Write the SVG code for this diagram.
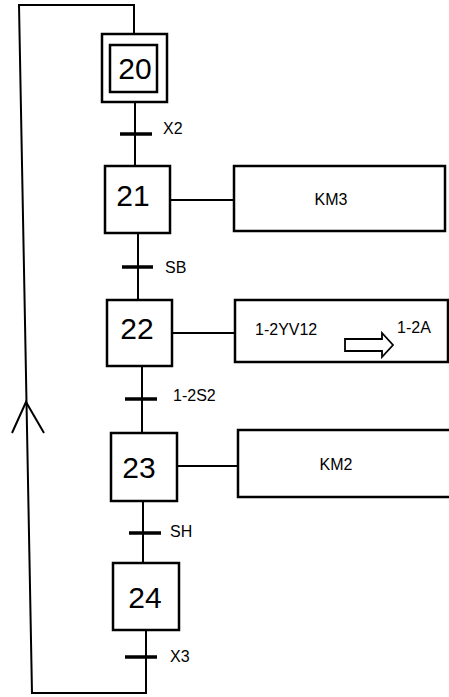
<svg xmlns="http://www.w3.org/2000/svg" width="449" height="697" viewBox="0 0 449 697">
<style>
.box{fill:none;stroke:#000;stroke-width:2.5}
.ln{fill:none;stroke:#000;stroke-width:2}
.bar{stroke:#000;stroke-width:3.5}
.num{font-family:"Liberation Sans",Arial,sans-serif;font-size:30px;text-anchor:middle;fill:#000}
.lbl{font-family:"Liberation Sans",Arial,sans-serif;font-size:16px;fill:#000}
.act{font-family:"Liberation Sans",Arial,sans-serif;font-size:16px;fill:#000}
</style>
<rect width="449" height="697" fill="#fff"/>
<g id="connectors">
<polyline class="ln" points="134,34 134,5 19,5 32,693 146,693 146,630"/>
<polyline class="ln" points="12,433 26,402 44,433"/>
<line class="ln" x1="135" y1="102" x2="135" y2="166"/>
<line class="bar" x1="120" y1="134" x2="152" y2="134"/>
<text class="lbl" x="163" y="134">X2</text>
<line class="ln" x1="138" y1="233" x2="138" y2="300"/>
<line class="bar" x1="122" y1="267" x2="153" y2="267"/>
<text class="lbl" x="165" y="273">SB</text>
<line class="ln" x1="142" y1="366" x2="142" y2="433"/>
<line class="bar" x1="125" y1="399" x2="157" y2="399"/>
<text class="lbl" x="173" y="401">1-2S2</text>
<line class="ln" x1="143" y1="501" x2="143" y2="563"/>
<line class="bar" x1="129" y1="533" x2="161" y2="533"/>
<text class="lbl" x="170" y="537">SH</text>
<line class="bar" x1="125" y1="657" x2="157" y2="657"/>
<text class="lbl" x="170" y="662">X3</text>
<line class="ln" x1="170" y1="200" x2="234" y2="200"/>
<line class="ln" x1="172" y1="333" x2="235" y2="333"/>
<line class="ln" x1="177" y1="466" x2="238" y2="466"/>
</g>
<g id="step20">
<rect class="box" x="102" y="34" width="65" height="68"/>
<rect class="box" x="110" y="45" width="47" height="47"/>
<text class="num" x="135" y="79">20</text>
</g>
<g id="step21">
<rect class="box" x="105" y="166" width="65" height="67"/>
<text class="num" x="133" y="206">21</text>
</g>
<g id="step22">
<rect class="box" x="107" y="300" width="65" height="66"/>
<text class="num" x="137" y="339">22</text>
</g>
<g id="step23">
<rect class="box" x="111" y="433" width="66" height="68"/>
<text class="num" x="139" y="478">23</text>
</g>
<g id="step24">
<rect class="box" x="113" y="563" width="66" height="67"/>
<text class="num" x="145" y="608">24</text>
</g>
<g id="action21">
<rect class="box" x="234" y="166" width="211" height="65"/>
<text class="act" x="331" y="205" text-anchor="middle">KM3</text>
</g>
<g id="action22">
<rect class="box" x="235" y="300" width="213" height="62"/>
<text class="act" x="255" y="335">1-2YV12</text>
<polygon points="345,339 382,339 382,333 393,345 382,357 382,351 345,351" fill="#fff" stroke="#000" stroke-width="1.8"/>
<text class="act" x="397" y="333">1-2A</text>
</g>
<g id="action23">
<polyline class="box" points="460,430 238,430 238,497 460,497"/>
<text class="act" x="336" y="470" text-anchor="middle">KM2</text>
</g>
</svg>
